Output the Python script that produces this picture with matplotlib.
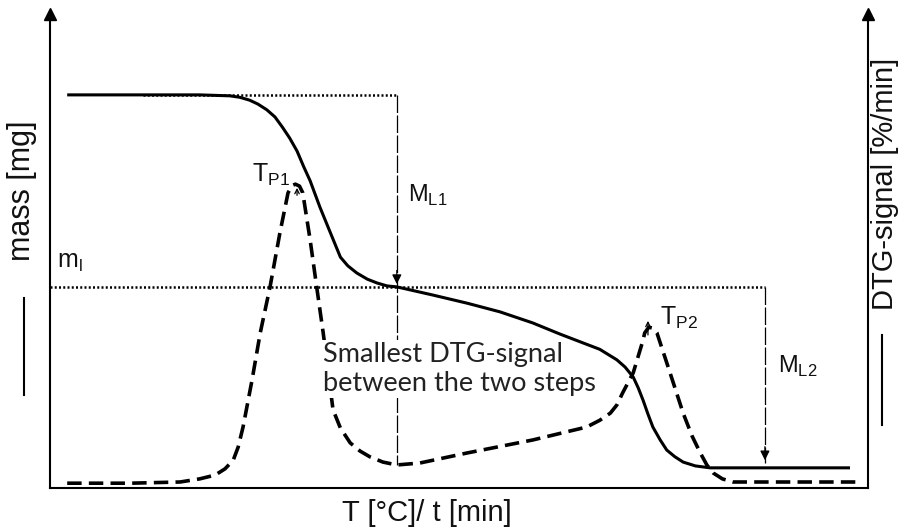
import numpy as np
import matplotlib
matplotlib.use("Agg")
import matplotlib.pyplot as plt
from matplotlib.lines import Line2D

# mass curve (T in arbitrary units 0..100, mass in % of axis height)
mass_t = [2.1, 12.2, 18.3, 22.0, 23.2, 24.4, 25.4, 26.5, 27.5, 28.4, 29.3, 30.2,
          31.0, 31.8, 33.0, 34.2, 35.5, 36.4, 37.5, 38.8, 40.0, 41.2, 42.4,
          46.8, 51.0, 55.0, 59.0, 62.3, 65.2, 67.2, 69.3, 70.3, 71.3, 71.9,
          72.5, 73.1, 73.7, 74.6, 75.4, 76.4, 77.4, 78.9, 80.7, 84.4, 97.8]
mass_v = [81.9, 81.9, 81.9, 81.7, 81.4, 80.8, 80.0, 78.8, 77.3, 75.2, 72.9, 70.2,
          67.0, 64.0, 58.5, 53.5, 48.1, 46.3, 44.8, 43.5, 42.7, 42.1, 41.9,
          40.2, 38.5, 36.7, 34.4, 32.1, 30.2, 28.9, 26.7, 25.2, 23.1, 20.9,
          18.3, 15.4, 12.7, 10.0, 7.9, 6.5, 5.4, 4.6, 4.2, 4.2, 4.2]

# DTG curve
dtg_t = [2.1, 9.8, 15.9, 18.3, 20.2, 21.4, 22.4, 23.0, 23.6, 24.7, 25.7, 26.9,
         28.1, 29.1, 29.6, 30.0, 30.5, 30.9, 31.8, 32.6, 33.4, 34.6, 35.5,
         36.7, 37.9, 39.1, 40.7, 42.4, 45.2, 51.0, 59.0, 65.6, 67.2, 68.5,
         69.3, 70.0, 71.3, 72.5, 72.7, 73.2, 73.7, 74.2, 75.8, 77.4, 78.5,
         79.5, 80.3, 81.1, 82.2, 83.5, 98.7]
dtg_v = [1.0, 1.0, 1.25, 1.9, 2.7, 4.0, 5.8, 8.5, 12.7, 22.5, 32.3, 41.9,
         53.1, 61.5, 63.0, 63.3, 62.9, 61.5, 51.7, 41.9, 32.3, 16.3, 12.5,
         9.4, 7.7, 6.5, 5.4, 4.8, 5.2, 7.3, 10.0, 12.7, 14.1, 15.6,
         17.3, 19.8, 24.0, 30.8, 32.3, 33.5, 33.3, 32.3, 24.0, 15.6, 10.8,
         7.3, 4.8, 3.1, 1.9, 1.25, 1.25]

m_start = 81.9      # initial mass level
m_i = 41.9          # intermediate mass level
m_end = 5.2         # end of second mass loss arrow
t_step1 = 42.4      # position of smallest DTG between steps
t_step2 = 87.4
dtg_min = 4.8
tp1 = (30.2, 60.4, 63.1)
tp2 = (73.1, 31.3, 35.4)

fig = plt.figure(figsize=(9, 5.32), dpi=100)
ax = fig.add_axes([50/900, 44/532, 818/900, 474/532])
ax.set_xlim(0, 100)
ax.set_ylim(0, 98.75)
ax.set_xticks([])
ax.set_yticks([])
ax.spines['top'].set_visible(False)
for s in ['left', 'right', 'bottom']:
    ax.spines[s].set_linewidth(1.5)

# arrow heads on the two vertical axes
for xa in (0, 1):
    ax.plot(xa, 1, marker='^', ms=8, color='k', transform=ax.transAxes, clip_on=False)

ax.plot(mass_t, mass_v, color='k', lw=2.2, solid_capstyle='butt', solid_joinstyle='round',
        zorder=6)
ax.plot(dtg_t, dtg_v, color='k', lw=2.6, dashes=(4, 2), dash_joinstyle='round')

# dotted reference levels
ax.plot([11.4, t_step1], [m_start, m_start], color='k', lw=1.8, dashes=(0.8, 0.9))
ax.plot([0, t_step2], [m_i, m_i], color='k', lw=1.8, dashes=(0.8, 0.9))

# mass loss arrows
ax.plot([t_step1, t_step1], [m_start, dtg_min], color='k', lw=0.9, dashes=(14, 2))
ax.plot([t_step2, t_step2], [m_i, m_end], color='k', lw=0.9, dashes=(14, 2))
for xs, ys in ((t_step1, m_i), (t_step2, m_end)):
    ax.annotate('', xy=(xs, ys), xytext=(xs, ys + 4),
                arrowprops=dict(arrowstyle='-|>', color='k', lw=0.9, mutation_scale=14))

# peak markers
for xp, y0, y1 in (tp1, tp2):
    ax.annotate('', xy=(xp, y1), xytext=(xp, y0),
                arrowprops=dict(arrowstyle='->', color='k', lw=0.9, mutation_scale=8))

lab = dict(family='Liberation Sans', color='#111111')
ax.text(0.85, 45.8, r'm$_\mathregular{l}$', fontsize=18, **lab)
ax.text(24.7, 63.75, r'T$_\mathregular{P1}$', fontsize=18, **lab)
ax.text(43.8, 59.6, r'M$_\mathregular{L1}$', fontsize=17, **lab)
ax.text(74.6, 34.0, r'T$_\mathregular{P2}$', fontsize=18, **lab)
ax.text(89.0, 24.0, r'M$_\mathregular{L2}$', fontsize=17, **lab)

ax.text(33.4, 30.4, 'Smallest DTG-signal\nbetween the two steps', fontsize=19.5,
        family='Lato', color='#222222', va='top', linespacing=1.2, zorder=5,
        bbox=dict(facecolor='white', edgecolor='none', pad=1.5))

fig.text(22/900, 1 - 191/532, 'mass [mg]', rotation=90, ha='center', va='center',
         fontsize=22, **lab)
fig.text(885/900, 1 - 184/532, 'DTG-signal [%/min]', rotation=90, ha='center', va='center',
         fontsize=21, **lab)
fig.text(427/900, 1 - 513/532, 'T [°C]/ t [min]', ha='center', va='center',
         fontsize=21, **lab)

# legend keys next to axis titles
fig.add_artist(Line2D([24/900, 24/900], [1 - 298/532, 1 - 395/532], color='k', lw=1.5))
fig.add_artist(Line2D([882/900, 882/900], [1 - 335/532, 1 - 425/532], color='k', lw=1.5))

fig.savefig('out.png', dpi=100)
